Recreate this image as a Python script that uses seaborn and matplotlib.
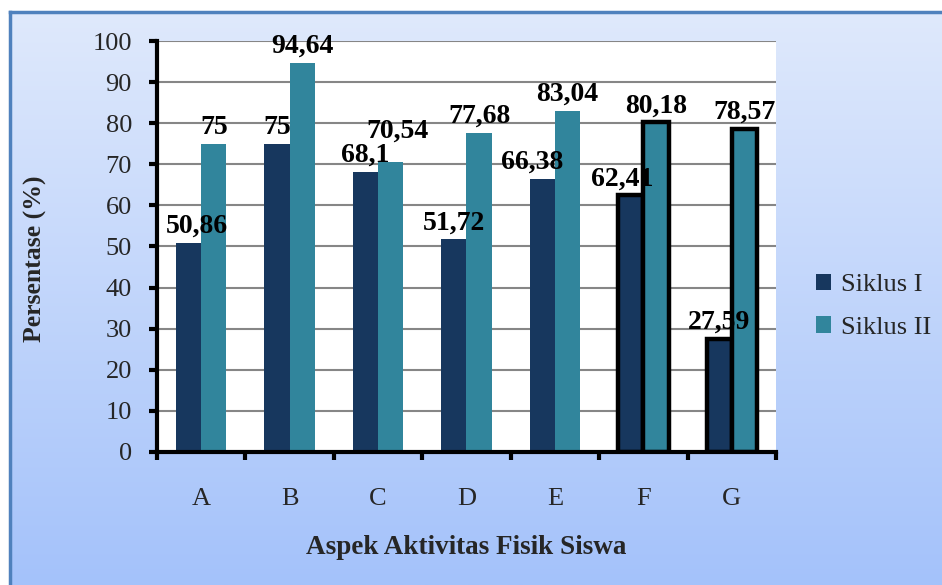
import numpy as np
import pandas as pd
import matplotlib
matplotlib.use("Agg")
import matplotlib.pyplot as plt
import seaborn as sns

# data
aspek = ["A", "B", "C", "D", "E", "F", "G"]
siklus_1 = [50.86, 75, 68.1, 51.72, 66.38, 62.41, 27.59]
siklus_2 = [75, 94.64, 70.54, 77.68, 83.04, 80.18, 78.57]
seri = ["Siklus I", "Siklus II"]
warna = ["#17375E", "#31859C"]
disorot = ["F", "G"]

# geser label (pt) seperti di gambar asli
geser_1 = [(6, 0), (0, 0), (0, 0), (0, 0), (-7, 0), (-6, 0), (0, 0)]
geser_2 = [(0, 0), (0, 0), (5, 10), (0, 0), (0, 0), (0, 0), (0, 0)]

df = pd.DataFrame({
    "Aspek": aspek * 2,
    "Persentase": siklus_1 + siklus_2,
    "Siklus": [seri[0]] * len(aspek) + [seri[1]] * len(aspek),
})

sns.set_theme(style="white")
plt.rcParams["font.family"] = ["Liberation Serif", "DejaVu Serif"]

fig = plt.figure(figsize=(9.42, 5.85), dpi=100)
fig.patch.set_facecolor("white")

# latar gradien + bingkai
bg = fig.add_axes([10 / 942, 0, 932 / 942, 573 / 585], zorder=-5)
grad = np.linspace(0, 1, 256).reshape(-1, 1)
c_top = np.array([0xDF, 0xE9, 0xFC]) / 255
c_bot = np.array([0xA4, 0xC2, 0xFA]) / 255
img = c_top[None, None, :] * (1 - grad[:, :, None]) + c_bot[None, None, :] * grad[:, :, None]
bg.imshow(img, aspect="auto", extent=[0, 1, 0, 1], origin="upper")
bg.set_xlim(0, 1)
bg.set_ylim(0, 1)
bg.set_xticks([])
bg.set_yticks([])
for s in ["right", "bottom"]:
    bg.spines[s].set_visible(False)
for s in ["left", "top"]:
    bg.spines[s].set_color("#4F81BD")
    bg.spines[s].set_linewidth(2.5)

ax = fig.add_axes([157 / 942, 133 / 585, 619 / 942, 411 / 585])
ax.set_facecolor("white")

sns.barplot(data=df, x="Aspek", y="Persentase", hue="Siklus", palette=warna,
            width=0.57, ax=ax, saturation=1, edgecolor="none", zorder=3)

# garis tebal hitam untuk F dan G + label nilai
for cont, geser in zip(ax.containers, [geser_1, geser_2]):
    for lbl, bar, (dx, dy) in zip(aspek, cont, geser):
        if lbl in disorot:
            bar.set_edgecolor("black")
            bar.set_linewidth(3.2)
        ax.annotate(f"{bar.get_height():g}".replace(".", ","),
                    (bar.get_x() + bar.get_width() / 2, bar.get_height()),
                    xytext=(dx, 3 + dy), textcoords="offset points",
                    ha="center", va="bottom", fontsize=20, fontweight="bold",
                    color="black", zorder=5)

ax.set_ylim(0, 100)
ax.set_xlim(-0.5, 6.5)
ax.set_yticks(range(0, 101, 10))
ax.yaxis.grid(True, color="#868686", linewidth=1.5, zorder=0)
ax.set_axisbelow(True)

ax.spines["top"].set_visible(False)
ax.spines["right"].set_visible(False)
for s in ["left", "bottom"]:
    ax.spines[s].set_linewidth(3)
    ax.spines[s].set_color("black")
    ax.spines[s].set_zorder(6)

ax.tick_params(axis="y", which="major", direction="out", length=6, width=3,
               labelsize=19, pad=12, left=True, color="black")
ax.set_xticks(np.arange(-0.5, 7, 1), minor=True)
ax.tick_params(axis="x", which="minor", direction="out", length=6, width=3,
               bottom=True, color="black")
ax.tick_params(axis="x", which="major", length=0, labelsize=19, pad=26)

ax.set_xlabel("Aspek Aktivitas Fisik Siswa", fontsize=19.5, fontweight="bold", labelpad=18)
ax.set_ylabel("Persentase (%)", fontsize=18.5, fontweight="bold")
ax.yaxis.set_label_coords(-0.178, 0.47)

leg = ax.legend(loc="center left", bbox_to_anchor=(1.064, 0.355), frameon=False,
                fontsize=19, handlelength=0.6, handleheight=0.6, handletextpad=0.35,
                labelspacing=0.75, borderaxespad=0, borderpad=0)

fig.savefig("out.png", dpi=100)
